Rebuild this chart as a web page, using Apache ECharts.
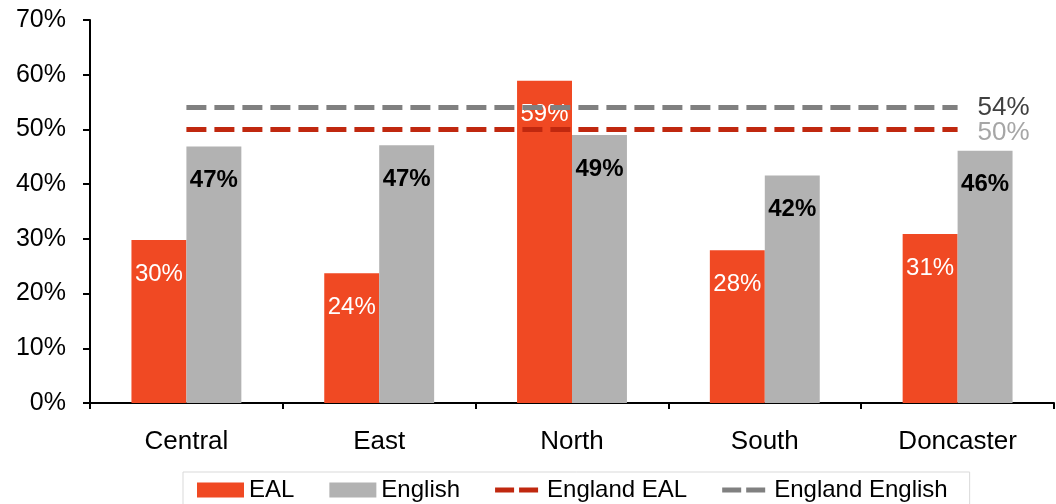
<!DOCTYPE html>
<html><head><meta charset="utf-8">
<script src="https://cdn.jsdelivr.net/npm/echarts@6/dist/echarts.min.js"></script>
<style>html,body{margin:0;padding:0;background:#fff}#c{width:1056px;height:504px}</style>
</head><body><div id="c"></div>
<script>
const categories = ['Central', 'East', 'North', 'South', 'Doncaster'];
const ealValues = [0.298, 0.237, 0.589, 0.279, 0.309];
const englishValues = [0.469, 0.471, 0.490, 0.416, 0.461];
const englandEAL = 0.50;
const englandEnglish = 0.54;
const yTicks = [0, 0.1, 0.2, 0.3, 0.4, 0.5, 0.6, 0.7];

const font = 'Liberation Sans, Arial, sans-serif';
const pct = v => Math.round(v * 100) + '%';
const dashIcon = 'path://M0,0h0.01v0.01h-0.01z M0,5h19v5h-19z M24,5h19v5h-19z M46.99,14.99h0.01v0.01h-0.01z';
const chart = echarts.init(document.getElementById('c'));
chart.setOption({
  animation: false,
  textStyle: { fontFamily: font },
  grid: { left: 90, right: 2, top: 20, bottom: 101, containLabel: false },
  legend: {
    left: 183, top: 472,
    padding: [6, 22, 12, 14],
    borderColor: '#d9d9d9', borderWidth: 1,
    itemWidth: 47, itemHeight: 15, itemGap: 35,
    textStyle: { fontSize: 24, color: '#000', fontFamily: font },
    data: [
      { name: 'EAL', icon: 'rect' },
      { name: 'English', icon: 'rect' },
      { name: 'England EAL', icon: dashIcon, itemStyle: { color: '#C0280F' } },
      { name: 'England English', icon: dashIcon, itemStyle: { color: '#808080' } }
    ]
  },
  xAxis: {
    type: 'category', data: categories,
    axisLine: { lineStyle: { color: '#000', width: 2 } },
    axisTick: { show: true, length: 6, lineStyle: { color: '#000', width: 2 } },
    axisLabel: { fontSize: 26, color: '#000', margin: 26, fontFamily: font }
  },
  yAxis: {
    type: 'value', min: 0, max: 0.7, interval: 0.1,
    axisLine: { show: true, lineStyle: { color: '#000', width: 2 } },
    axisTick: { show: true, length: 7, lineStyle: { color: '#000', width: 2 } },
    splitLine: { show: false },
    axisLabel: { fontSize: 25, color: '#000', margin: 24, fontFamily: font, padding: [6, 0, 0, 0],
      formatter: v => yTicks.some(t => Math.abs(t - v) < 1e-9) ? Math.round(v * 100) + '%' : '' }
  },
  series: [
    { name: 'EAL', type: 'bar', data: ealValues, barWidth: '28.5%', barGap: '0%',
      itemStyle: { color: '#F04923' },
      label: { show: true, position: 'insideTop', distance: 22, color: '#fff', fontSize: 24,
        fontFamily: font, formatter: p => pct(p.value) } },
    { name: 'English', type: 'bar', data: englishValues, barWidth: '28.5%',
      itemStyle: { color: '#B2B2B2' },
      label: { show: true, position: 'insideTop', distance: 22, color: '#000', fontSize: 24,
        fontWeight: 'bold', fontFamily: font, formatter: p => pct(p.value) } },
    { name: 'England EAL', type: 'line', data: categories.map(() => englandEAL),
      symbol: 'none', z: 5,
      lineStyle: { color: '#C0280F', width: 5, type: [20, 8] },
      itemStyle: { color: '#C0280F' },
      endLabel: { show: true, color: '#A6A6A6', fontSize: 26, distance: 20, offset: [0, 3],
        fontFamily: font, formatter: p => pct(p.value) } },
    { name: 'England English', type: 'line', data: categories.map(() => englandEnglish),
      symbol: 'none', z: 5,
      lineStyle: { color: '#808080', width: 5, type: [20, 8] },
      itemStyle: { color: '#808080' },
      endLabel: { show: true, color: '#404040', fontSize: 26, distance: 20,
        fontFamily: font, formatter: p => pct(p.value) } }
  ]
});
</script></body></html>
